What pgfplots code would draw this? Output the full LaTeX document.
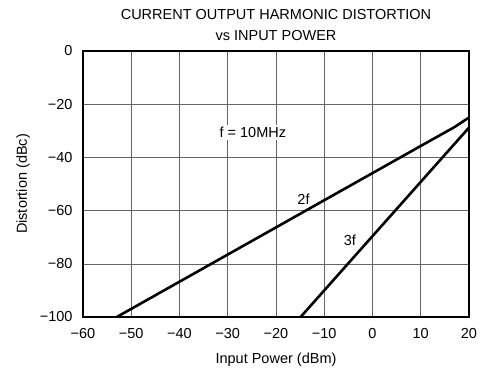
\documentclass[border=0pt]{standalone}
\usepackage{fontspec}
\setmainfont{Liberation Sans}
\usepackage{pgfplots}
\pgfplotsset{compat=1.18}
\begin{document}
\begin{tikzpicture}
\newcommand{\fs}{\fontsize{14.5}{17}\selectfont}
\begin{axis}[
  scale only axis,
  width=386pt, height=266pt,
  xmin=-60, xmax=20, ymin=-100, ymax=0,
  xtick={-60,-50,-40,-30,-20,-10,0,10,20},
  xticklabels={−60,−50,−40,−30,−20,−10,0,10,20},
  ytick={-100,-80,-60,-40,-20,0},
  yticklabels={−100,−80,−60,−40,−20,0},
  grid=major,
  major grid style={black!60, line width=0.6pt},
  major tick length=0pt,
  axis line style={line width=2pt},
  tick label style={font=\fs},
  xticklabel style={yshift=-8pt},
  yticklabel style={xshift=-7pt},
  label style={font=\fs},
  xlabel={Input Power (dBm)},
  ylabel={Distortion (dBc)},
  xlabel style={yshift=-7pt},
  ylabel style={yshift=3pt},
  clip=true,
]
\addplot[black, line width=2.6pt] coordinates {(-53,-100) (0,-45.9) (10,-35.7) (17,-28.6) (20,-25)};
\addplot[black, line width=2.6pt] coordinates {(-14.9,-100) (-5.1,-80) (20,-28.8)};
\node[fill=white, inner sep=2pt, font=\fs] at (axis cs:-24.8,-30.6) {f = 10MHz};
\node[fill=white, inner sep=1pt, font=\fs] at (axis cs:-14.3,-55.8) {2f};
\node[fill=white, inner sep=1pt, font=\fs] at (axis cs:-4.7,-71.3) {3f};
\end{axis}
\node[anchor=base, inner sep=0pt, font=\fs] at ([yshift=32pt]current axis.north) {CURRENT OUTPUT HARMONIC DISTORTION};
\node[anchor=base, inner sep=0pt, font=\fs] at ([yshift=11pt]current axis.north) {vs INPUT POWER};
\path ([xshift=-83pt,yshift=-56pt]current axis.south west) rectangle ([xshift=21pt,yshift=51pt]current axis.north east);
\end{tikzpicture}
\end{document}
